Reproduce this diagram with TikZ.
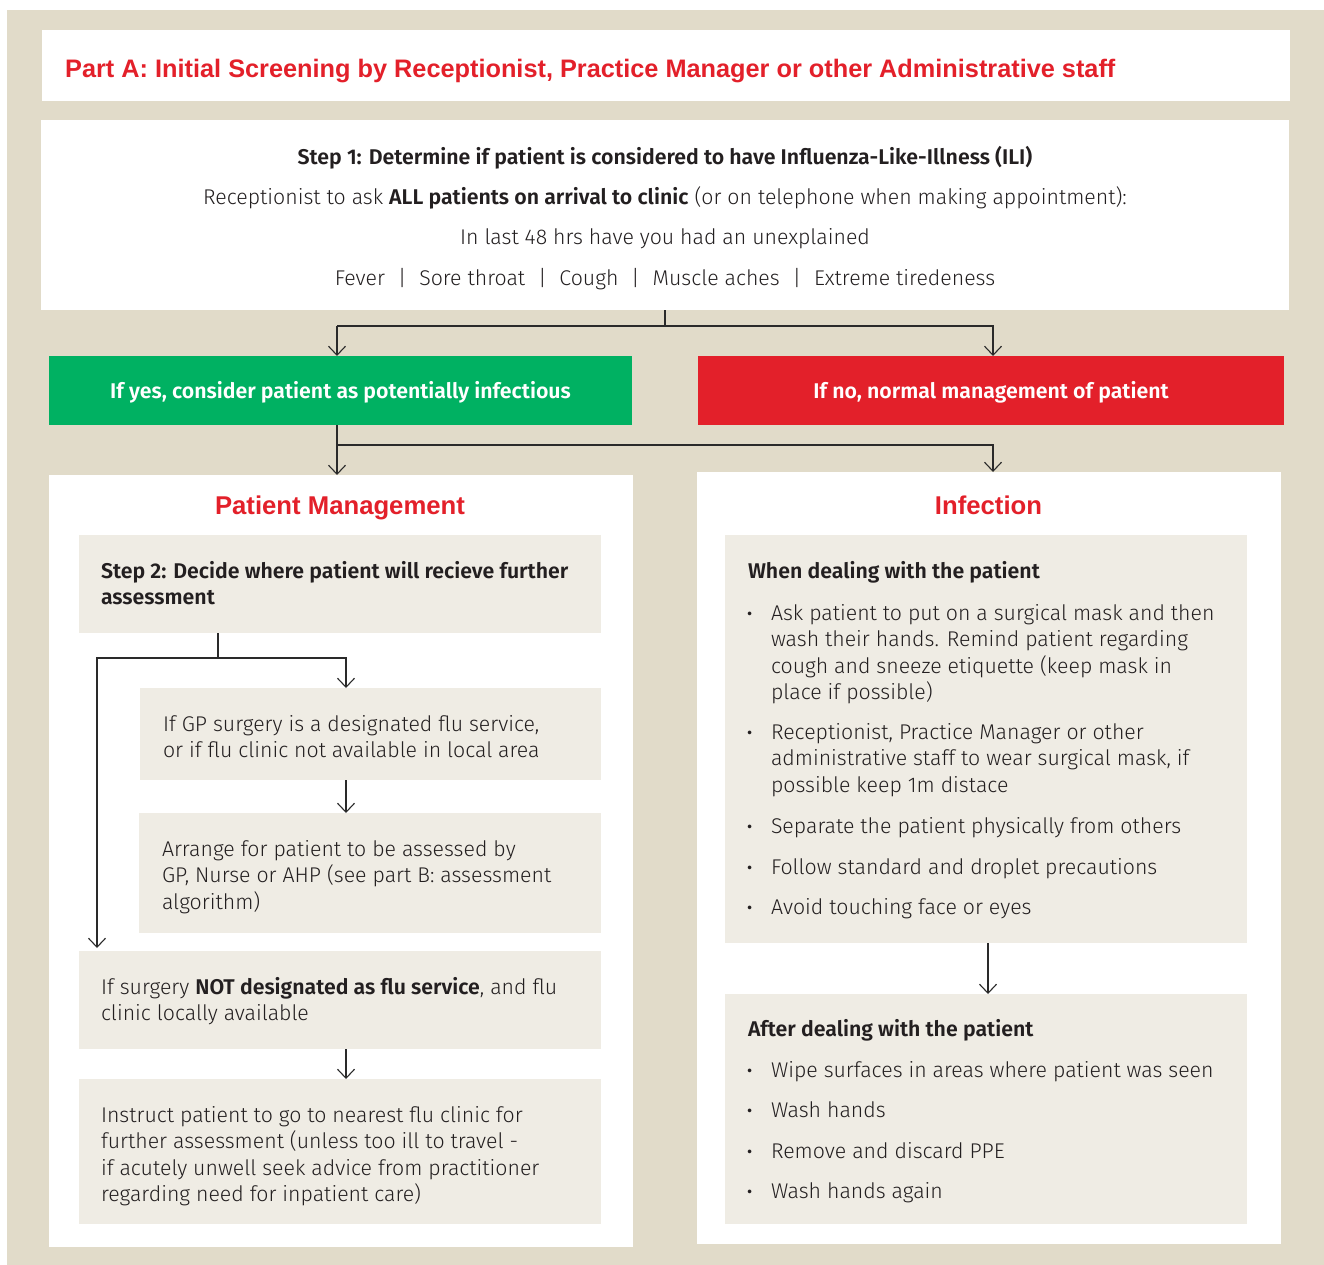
\documentclass[tikz,border=0pt]{standalone}
\usepackage{fontspec}
\setmainfont{Fira Sans Light}[BoldFont={Fira Sans SemiBold}]
\newfontfamily\arialfont{Liberation Sans}
\usetikzlibrary{arrows.meta}
\definecolor{bgbeige}{HTML}{E1DBC9}
\definecolor{boxbeige}{HTML}{EFECE4}
\definecolor{ygreen}{HTML}{00B162}
\definecolor{nred}{HTML}{E3202A}
\definecolor{ink}{HTML}{231F20}
\definecolor{lineink}{HTML}{2A2A2A}
\newcommand{\bodyfs}{\fontsize{21.3}{26.4}\selectfont}
\newcommand{\headfs}{\arialfont\bfseries\fontsize{25.7}{30}\selectfont}
\newcommand{\barsep}{\hspace{12.8pt}|\hspace{12.8pt}}
\newcommand{\bul}{\textbf{·}}
\tikzset{
  whitebox/.style={fill=white, draw=none, anchor=north west, inner sep=0pt, outer sep=0pt},
  lightbox/.style={fill=boxbeige, draw=none, anchor=north west, inner sep=0pt, outer sep=0pt},
  colbox/.style={draw=none, anchor=north west, inner sep=0pt, outer sep=0pt, text=white,
    font=\bodyfs\bfseries, text height=18pt, text depth=2pt},
  txt/.style={anchor=north west, inner sep=0pt, outer sep=0pt, align=left, font=\bodyfs, text=ink},
  ctxt/.style={anchor=base, inner sep=0pt, outer sep=0pt, font=\bodyfs, text=ink},
  ln/.style={draw=lineink, line width=1.3pt},
  arr/.style={ln, -{Straight Barb[width=17pt,length=9pt,line width=1.1pt]}},
}
\begin{document}
\begin{tikzpicture}[x=1pt,y=-1pt]
\useasboundingbox (0,0) rectangle (1324,1265);
\fill[bgbeige] (7,10) rectangle (1324,1265);

% title
\node[whitebox, minimum width=1248pt, minimum height=71pt] (title) at (42,30) {};
\node[anchor=base west, inner sep=0pt, text=nred, font=\arialfont\bfseries\fontsize{25.3}{28}\selectfont] (titletext) at (65,78)
  {Part A: Initial Screening by Receptionist, Practice Manager or other Administrative staff};

% step 1
\node[whitebox, minimum width=1248pt, minimum height=190pt] (step1) at (41,120) {};
\node[ctxt] (s1a) at (665,164.5) {\bfseries Step 1: Determine if patient is considered to have Influenza-Like-Illness (ILI)};
\node[ctxt] (s1b) at (665,204.5) {Receptionist to ask \textbf{ALL patients on arrival to clinic} (or on telephone when making appointment):};
\node[ctxt] (s1c) at (665,244.5) {In last 48 hrs have you had an unexplained};
\node[ctxt] (s1d) at (665,285.5) {Fever\barsep Sore throat\barsep Cough\barsep Muscle aches\barsep Extreme tiredeness};

% yes / no
\node[colbox, fill=ygreen, minimum width=583pt, minimum height=69pt] (yes) at (49,356)
  {If yes, consider patient as potentially infectious};
\node[colbox, fill=nred, minimum width=586pt, minimum height=69pt] (no) at (698,356)
  {If no, normal management of patient};

% panels
\node[whitebox, minimum width=584pt, minimum height=772pt] (pm) at (49,475) {};
\node[whitebox, minimum width=584pt, minimum height=772pt] (inf) at (697,472) {};
\node[anchor=base, inner sep=0pt, text=nred, font=\headfs] (pmtitle) at (340,514) {Patient Management};
\node[anchor=base, inner sep=0pt, text=nred, font=\headfs] (inftitle) at (988.5,514) {Infection};

% left panel boxes
\node[lightbox, minimum width=522pt, minimum height=98pt] (s2) at (79,535) {};
\node[txt] (s2t) at (101,559.9) {\strut\bfseries Step 2: Decide where patient will recieve further\\\bfseries assessment};
\node[lightbox, minimum width=461pt, minimum height=92pt] (gp) at (140,688) {};
\node[txt] (gpt) at (163,712.9) {\strut If GP surgery is a designated flu service,\\or if flu clinic not available in local area};
\node[lightbox, minimum width=462pt, minimum height=120pt] (arrange) at (139,813) {};
\node[txt] (arranget) at (162,837.9) {\strut Arrange for patient to be assessed by\\GP, Nurse or AHP (see part B: assessment\\algorithm)};
\node[lightbox, minimum width=522pt, minimum height=98pt] (notd) at (79,951) {};
\node[txt] (notdt) at (101,975.9) {\strut If surgery \textbf{NOT designated as flu service}, and flu\\clinic locally available};
\node[lightbox, minimum width=522pt, minimum height=145pt] (instr) at (79,1079) {};
\node[txt] (instrt) at (101,1103.9) {\strut Instruct patient to go to nearest flu clinic for\\further assessment (unless too ill to travel -\\if acutely unwell seek advice from practitioner\\regarding need for inpatient care)};

% right panel boxes
\node[lightbox, minimum width=522pt, minimum height=408pt] (when) at (725,535) {};
\node[txt] (whent) at (748,559.9) {\strut\bfseries When dealing with the patient};
\node[txt] (w1d) at (747,601.9) {\strut\bul};
\node[txt] (w1) at (771,601.9) {\strut Ask patient to put on a surgical mask and then\\wash their hands. Remind patient regarding\\cough and sneeze etiquette (keep mask in\\place if possible)};
\node[txt] (w2d) at (747,720.9) {\strut\bul};
\node[txt] (w2) at (771,720.9) {\strut Receptionist, Practice Manager or other\\administrative staff to wear surgical mask, if\\possible keep 1m distace};
\node[txt] (w3d) at (747,814.9) {\strut\bul};
\node[txt] (w3) at (771,814.9) {\strut Separate the patient physically from others};
\node[txt] (w4d) at (747,855.9) {\strut\bul};
\node[txt] (w4) at (771,855.9) {\strut Follow standard and droplet precautions};
\node[txt] (w5d) at (747,895.9) {\strut\bul};
\node[txt] (w5) at (771,895.9) {\strut Avoid touching face or eyes};

\node[lightbox, minimum width=522pt, minimum height=230pt] (after) at (725,994) {};
\node[txt] (aftert) at (748,1017.9) {\strut\bfseries After dealing with the patient};
\node[txt] (a1d) at (747,1058.9) {\strut\bul};
\node[txt] (a1) at (771,1058.9) {\strut Wipe surfaces in areas where patient was seen};
\node[txt] (a2d) at (747,1098.9) {\strut\bul};
\node[txt] (a2) at (771,1098.9) {\strut Wash hands};
\node[txt] (a3d) at (747,1139.9) {\strut\bul};
\node[txt] (a3) at (771,1139.9) {\strut Remove and discard PPE};
\node[txt] (a4d) at (747,1179.9) {\strut\bul};
\node[txt] (a4) at (771,1179.9) {\strut Wash hands again};

% connectors
\coordinate (xL) at (337,0);
\coordinate (xR) at (993,0);
\coordinate (x346) at (346,0);
\coordinate (xI) at (988,0);
\coordinate (c1) at (665,326);
\coordinate (c1L) at (337,326);
\coordinate (c2) at (337,445);
\coordinate (c3) at (218,658);
\coordinate (c3L) at (97,658);
\coordinate (c4) at (97,948);

\draw[ln] (step1.south -| c1) -- (c1);
\draw[arr] (c1L) -- (yes.north -| xL);
\draw[ln] (c1L) -- (c1);
\draw[arr] (c1) -| (no.north -| xR);

\draw[arr] (yes.south -| xL) -- (pm.north -| xL);
\draw[arr] (c2) -| (inf.north -| xR);

\draw[ln] (s2.south -| c3) -- (c3);
\draw[arr] (c3) -| (gp.north -| x346);
\draw[arr] (c3) -- (c3L) -- (c4);
\draw[arr] (gp.south -| x346) -- (arrange.north -| x346);
\draw[arr] (notd.south -| x346) -- (instr.north -| x346);

\draw[arr] (when.south -| xI) -- (after.north -| xI);
\end{tikzpicture}
\end{document}
